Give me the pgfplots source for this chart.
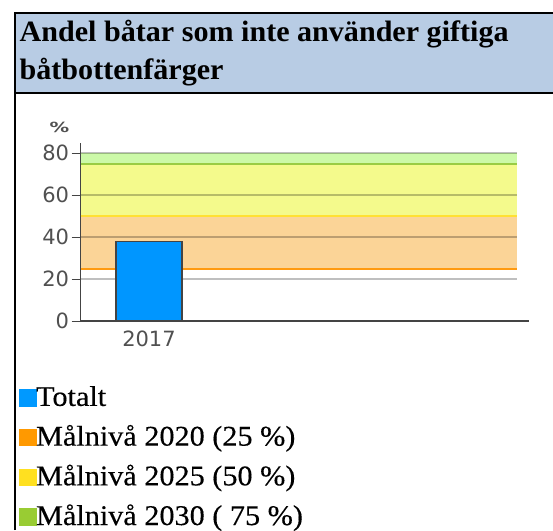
\documentclass[border=0pt]{standalone}
\usepackage{pgfplots}
\pgfplotsset{compat=1.18}
\usepackage{fontspec}
\setmainfont{Liberation Serif}
\newfontfamily\titlefont[FakeStretch=1.02]{Liberation Serif}
\newfontfamily\legfont[FakeStretch=1.06,FakeBold=0.3]{Liberation Serif}
\newfontfamily\dejavu{DejaVu Sans}
\definecolor{titlebg}{HTML}{B8CCE4}
\definecolor{barblue}{HTML}{0096FF}
\definecolor{orfill}{HTML}{FBD497}
\definecolor{orline}{HTML}{FF9A10}
\definecolor{yefill}{HTML}{F4FA8C}
\definecolor{yeline}{HTML}{FFE033}
\definecolor{grfill}{HTML}{CCF9A8}
\definecolor{grline}{HTML}{99CC44}
\definecolor{axc}{HTML}{444444}
\definecolor{tlc}{HTML}{505050}
\definecolor{lgorange}{HTML}{FF9900}
\definecolor{lgyellow}{HTML}{FFE020}
\definecolor{lggreen}{HTML}{99CC33}
\definecolor{lgblue}{HTML}{0099FF}
\pgfplotsset{
  legsq/.style={legend image code/.code={\fill[#1] (0pt,0pt) rectangle (16.5pt,16.5pt);}},
}
\begin{document}
\begin{tikzpicture}[x=1pt,y=1pt]
\useasboundingbox (0,0) rectangle (553,530);
% title box
\fill[titlebg] (14.7,517.3) rectangle (553,437);
\draw[line width=2pt] (14.7,0) -- (14.7,517.3) -- (553,517.3);
\draw[line width=2pt] (14.7,437) -- (553,437);
\node[anchor=base west, inner sep=0pt] at (19.5,488.3) {\titlefont\bfseries\fontsize{29.5}{30}\selectfont Andel båtar som inte använder giftiga};
\node[anchor=base west, inner sep=0pt] at (19.5,450) {\titlefont\bfseries\fontsize{29.5}{30}\selectfont båtbottenfärger};
% percent label
\node[inner sep=0pt, text=tlc] at (59.5,403) {\scalebox{1.4}[1]{\dejavu\bfseries\fontsize{14}{14}\selectfont\%}};
\begin{axis}[
  at={(80.7pt,209pt)}, anchor=south west,
  scale only axis, width=448.3pt, height=178.3pt,
  xmin=0, xmax=448.3, ymin=0, ymax=85,
  axis x line*=bottom, axis y line*=left,
  axis line style={axc, line width=1.5pt},
  ytick={0,20,40,60,80},
  xtick={68.3}, xticklabels={2017},
  tick align=outside,
  major tick length=9pt,
  ytick style={axc, line width=1pt},
  xtick style={draw=none},
  tick label style={font=\dejavu\fontsize{21}{21}\selectfont, text=tlc},
  yticklabel style={inner sep=0pt, xshift=-2.4pt},
  xticklabel style={inner sep=0pt, yshift=-0.5pt},
  /pgf/number format/assume math mode=true,
  clip=false,
  legend cell align=left,
  legend style={at={(-0.1376,-0.3629)}, anchor=north west, draw=none, fill=none,
    inner sep=0pt, row sep=13.7pt, column sep=0pt,
    font=\legfont\fontsize{28.5}{28.5}\selectfont,
    cells={anchor=base west},
    nodes={inner sep=0pt, text height=20pt, text depth=6pt}},
]
% target bands
\addplot[fill=orfill, draw=none, forget plot] coordinates {(0,25) (436.3,25) (436.3,50) (0,50)} -- cycle;
\addplot[fill=yefill, draw=none, forget plot] coordinates {(0,50) (436.3,50) (436.3,75) (0,75)} -- cycle;
\addplot[fill=grfill, draw=none, forget plot] coordinates {(0,75) (436.3,75) (436.3,80) (0,80)} -- cycle;
\addplot[orline, line width=2pt, forget plot] coordinates {(0,25) (436.3,25)};
\addplot[yeline, line width=2pt, forget plot] coordinates {(0,50) (436.3,50)};
\addplot[grline, line width=2pt, forget plot] coordinates {(0,75) (436.3,75)};
% grid lines
\addplot[black, opacity=0.25, line width=1.5pt, forget plot] coordinates {(0,20) (436.3,20)};
\addplot[black, opacity=0.25, line width=1.5pt, forget plot] coordinates {(0,40) (436.3,40)};
\addplot[black, opacity=0.25, line width=1.5pt, forget plot] coordinates {(0,60) (436.3,60)};
\addplot[black, opacity=0.25, line width=1.5pt, forget plot] coordinates {(0,80) (436.3,80)};
% bar
\addplot[ybar, bar width=66, fill=barblue, draw=axc, line width=1.5pt, forget plot] coordinates {(68.3,38)};
\addlegendimage{legsq=lgblue}
\addlegendentry{Totalt}
\addlegendimage{legsq=lgorange}
\addlegendentry{Målnivå 2020 (25 \%)}
\addlegendimage{legsq=lgyellow}
\addlegendentry{Målnivå 2025 (50 \%)}
\addlegendimage{legsq=lggreen}
\addlegendentry{Målnivå 2030 ( 75 \%)}
\end{axis}
\end{tikzpicture}
\end{document}
